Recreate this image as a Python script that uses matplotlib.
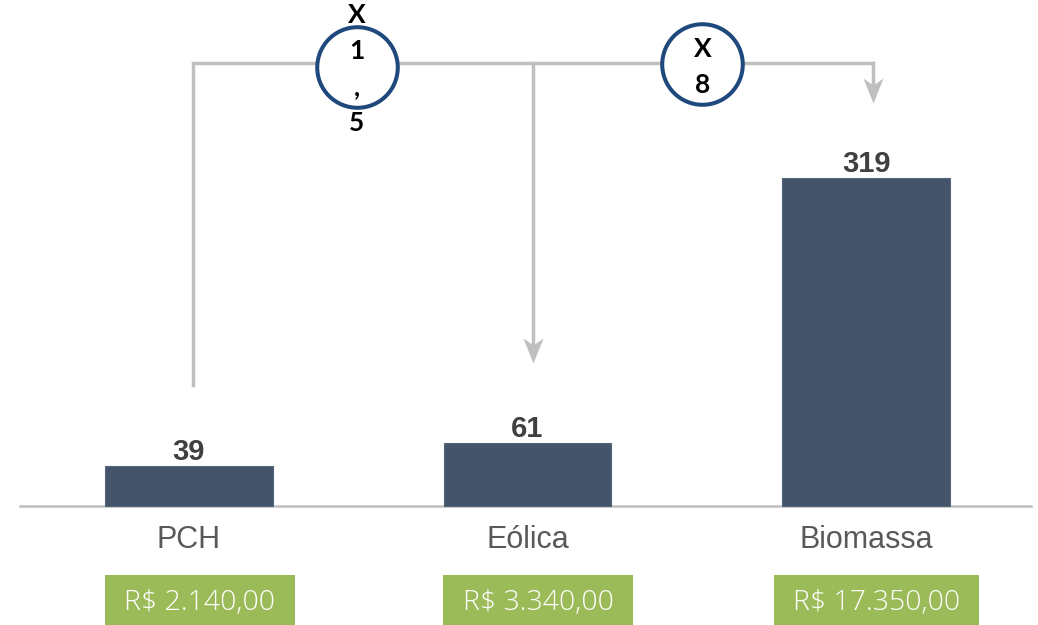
import matplotlib
matplotlib.use("Agg")
from matplotlib import pyplot as plt
from matplotlib.patches import Rectangle
from matplotlib.path import Path

# data
categories = ["PCH", "Eólica", "Biomassa"]
values = [39, 61, 319]
prices = ["R$ 2.140,00", "R$ 3.340,00", "R$ 17.350,00"]
ratio_labels = ["X\n1\n,\n5", "X\n8"]

bar_color = "#44546A"
grey_line = "#BFBFBF"
green = "#9BBB59"
ring = "#1F497D"

fig = plt.figure(figsize=(10.38, 6.25), dpi=100)
ax = fig.add_axes([0, 0, 1, 1])
ax.set_xlim(-0.558, 2.508)
ax.set_ylim(-115.8, 492.2)
ax.axis("off")

x = list(range(len(categories)))
ax.bar(x, values, width=0.496, color=bar_color, edgecolor="#56667C", linewidth=0.8, zorder=3)
ax.axhline(0, xmin=0.019, xmax=0.993, color=grey_line, lw=1.8, zorder=2)

for i, v in enumerate(values):
    ax.annotate(str(v), (i, v), xytext=(0, 4.5), textcoords="offset points",
                ha="center", va="baseline", fontsize=21, fontweight="bold",
                color="#404040", family="Liberation Sans")
    ax.text(i, -41, categories[i], ha="center", va="baseline", fontsize=22,
            color="#595959", family="Liberation Sans")

# green price tags under each category
box_w = [0.561, 0.561, 0.606]
for i, p in enumerate(prices):
    cx = i + 0.032
    ax.add_patch(Rectangle((cx - box_w[i] / 2, -115.8), box_w[i], 48.6,
                           facecolor=green, edgecolor="none", zorder=3))
    ax.text(cx, -101.2, p, ha="center", va="baseline", fontsize=20.5,
            color="white", family="Open Sans", fontweight="light", zorder=4)

# connector lines between the bars
top_y = 431
xl, xm, xr = 0.012, 1.016, 2.021
lw = 2.5
ax.plot([xl, xl, xr], [117.7, top_y, top_y], color=grey_line, lw=lw,
        solid_joinstyle="miter", zorder=1)
ax.plot([xm, xm], [top_y, 139 + 8], color=grey_line, lw=lw, zorder=1)
ax.plot([xr, xr], [top_y, 392 + 8], color=grey_line, lw=lw, solid_joinstyle="miter", zorder=1)

head = Path([(0, 0), (-0.4, 1), (0, 0.72), (0.4, 1), (0, 0)],
            [Path.MOVETO, Path.LINETO, Path.LINETO, Path.LINETO, Path.CLOSEPOLY])
ax.plot([xm, xr], [139, 392], linestyle="none", marker=head, ms=36,
        color=grey_line, mec="none", zorder=2)

# ratio circles sitting on the top line
cx_ring = [0.496, 1.517]
cy_ring = [427.5, 430]
text_y = [425, 427.5]
ax.plot(cx_ring, cy_ring, "o", ms=58, mfc="white", mec=ring, mew=2.9, zorder=4)
for cx, ty, txt in zip(cx_ring, text_y, ratio_labels):
    ax.text(cx, ty, txt, ha="center", va="center", multialignment="center",
            fontsize=19, fontweight="bold", family="Lato", linespacing=1.6,
            color="black", zorder=5)

fig.savefig("out.png", dpi=100)
